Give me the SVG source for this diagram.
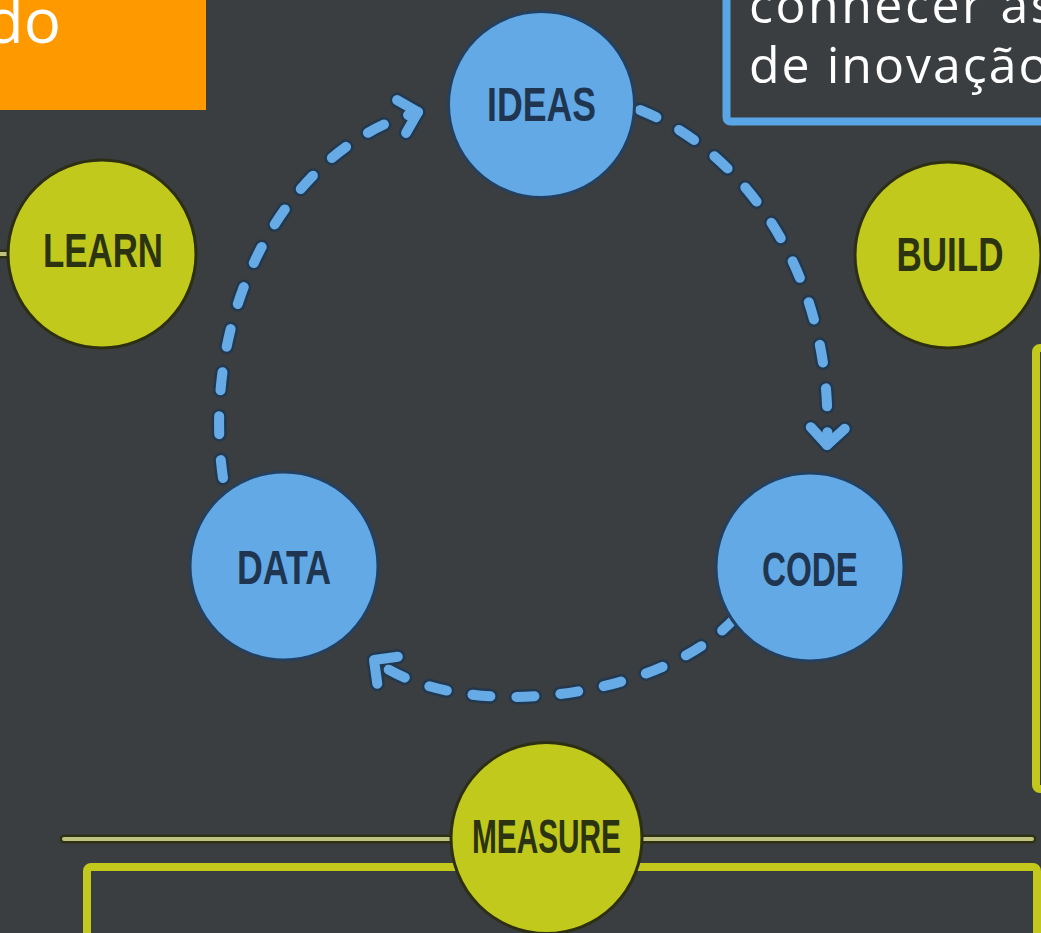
<svg xmlns="http://www.w3.org/2000/svg" width="1041" height="933" viewBox="0 0 1041 933">
<style>
.bg{fill:#3b3e41}
.blue{fill:#62a9e6;stroke:#24405e;stroke-width:3}
.yel{fill:#c1c91c;stroke:#2c2f12;stroke-width:3}
.lbl{font-family:"Liberation Sans Narrow","Liberation Sans",Arial,sans-serif;font-weight:bold;font-size:48px;text-anchor:middle}
.lb{fill:#1f3550}
.ly{fill:#2c3310}
.dash-o{fill:none;stroke:#22384e;stroke-width:15;stroke-linecap:round;stroke-dasharray:18 26}
.dash-i{fill:none;stroke:#66aae6;stroke-width:10;stroke-linecap:round;stroke-dasharray:18 26}
.big{font-family:"Open Sans","Noto Sans",sans-serif;fill:#ffffff}
.hl-o{stroke:#2e3114;stroke-width:9;stroke-linecap:round}
.hl-i{stroke:#bfc17e;stroke-width:4;stroke-linecap:round}
.ybox{fill:none;stroke:#c2c91c;stroke-width:8}
</style>
<defs>
<marker id="ao" markerUnits="userSpaceOnUse" markerWidth="60" markerHeight="60" refX="30" refY="30" orient="auto" viewBox="0 0 60 30" overflow="visible">
<path d="M13 13 L30 30 L13 47" fill="none" stroke="#22384e" stroke-width="15" stroke-linecap="round" stroke-linejoin="round"/>
</marker>
<marker id="ai" markerUnits="userSpaceOnUse" markerWidth="60" markerHeight="60" refX="30" refY="30" orient="auto" viewBox="0 0 60 30" overflow="visible">
<path d="M13 13 L30 30 L13 47" fill="none" stroke="#66aae6" stroke-width="10" stroke-linecap="round" stroke-linejoin="round"/>
</marker>
</defs>
<rect class="bg" x="0" y="0" width="1041" height="933"/>

<g id="title-box">
<rect x="0" y="0" width="206" height="110" fill="#ff9900"/>
<text class="big" x="61" y="43" font-size="62" text-anchor="end">do</text>
</g>

<g id="info-box">
<rect x="726.5" y="-30" width="400" height="151.5" rx="4" fill="none" stroke="#5aa5e6" stroke-width="8"/>
<text class="big" x="749" y="23" font-size="50" letter-spacing="2.5">connecer as</text>
<text class="big" x="749" y="83" font-size="50" letter-spacing="2">de inovação</text>
</g>

<g id="right-box">
<rect class="ybox" x="1036" y="348" width="100" height="441" rx="4"/>
</g>

<g id="measure-line">
<line class="hl-o" x1="64" y1="839" x2="1032" y2="839"/>
<line class="hl-i" x1="64" y1="839" x2="1032" y2="839"/>
<line class="hl-o" x1="-5" y1="254" x2="12" y2="254"/>
<line class="hl-i" x1="-5" y1="254" x2="12" y2="254"/>
</g>

<g id="bottom-box">
<rect class="ybox" x="87" y="867" width="950" height="100" rx="4"/>
</g>

<g id="connectors">
<path class="dash-o" d="M223 478 C200 320 280 150 418 112" marker-end="url(#ao)"/>
<path class="dash-i" d="M223 478 C200 320 280 150 418 112" marker-end="url(#ai)"/>
<path class="dash-o" d="M640 110 C740 150 835 270 827 445" marker-end="url(#ao)"/>
<path class="dash-i" d="M640 110 C740 150 835 270 827 445" marker-end="url(#ai)"/>
<path class="dash-o" d="M735 618 C660 700 460 725 374 660" marker-end="url(#ao)"/>
<path class="dash-i" d="M735 618 C660 700 460 725 374 660" marker-end="url(#ai)"/>
</g>

<g id="node-ideas">
<circle class="blue" cx="541.5" cy="104.5" r="93"/>
<text class="lbl lb" x="541.5" y="121" textLength="109" lengthAdjust="spacingAndGlyphs">IDEAS</text>
</g>
<g id="node-learn">
<circle class="yel" cx="102" cy="254" r="94"/>
<text class="lbl ly" x="103" y="267" textLength="120" lengthAdjust="spacingAndGlyphs">LEARN</text>
</g>
<g id="node-build">
<circle class="yel" cx="948" cy="255" r="93"/>
<text class="lbl ly" x="950" y="271" textLength="107" lengthAdjust="spacingAndGlyphs">BUILD</text>
</g>
<g id="node-data">
<circle class="blue" cx="284" cy="566" r="94"/>
<text class="lbl lb" x="284" y="584" textLength="94" lengthAdjust="spacingAndGlyphs">DATA</text>
</g>
<g id="node-code">
<circle class="blue" cx="810" cy="567" r="94"/>
<text class="lbl lb" x="810" y="586" textLength="96" lengthAdjust="spacingAndGlyphs">CODE</text>
</g>
<g id="node-measure">
<circle class="yel" cx="546.5" cy="838" r="95.5"/>
<text class="lbl ly" x="546.5" y="853" textLength="149" lengthAdjust="spacingAndGlyphs">MEASURE</text>
</g>
</svg>
